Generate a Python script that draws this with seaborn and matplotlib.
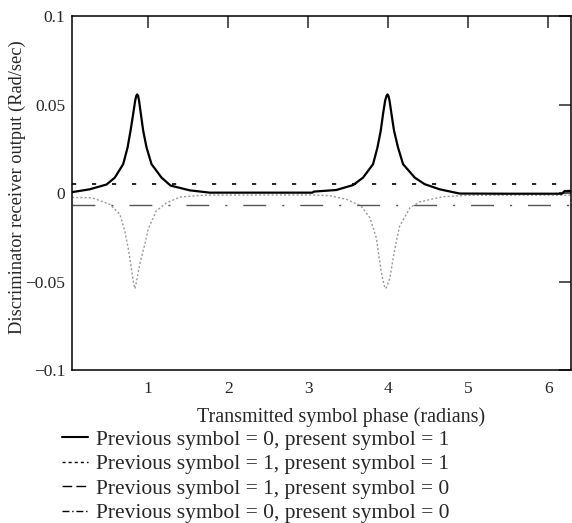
import numpy as np
import seaborn as sns
import matplotlib.pyplot as plt
from matplotlib.lines import Line2D

# values
x_01 = [0.05, 0.27, 0.48, 0.584, 0.688, 0.743, 0.78, 0.813, 0.838, 0.852, 0.863, 0.875,
        0.886, 0.909, 0.938, 0.98, 1.042, 1.167, 1.28, 1.52, 1.77, 2.5, 3.05, 3.07, 3.35,
        3.56, 3.684, 3.809, 3.864, 3.905, 3.934, 3.96, 3.978, 3.989, 4.001, 4.015, 4.039,
        4.071, 4.121, 4.184, 4.33, 4.454, 4.64, 4.89, 5.5, 6.17, 6.2, 6.28]
y_01 = [0.0005, 0.0021, 0.0048, 0.0087, 0.0163, 0.0257, 0.0352, 0.0447, 0.0522, 0.0549,
        0.0557, 0.0549, 0.0522, 0.0447, 0.0352, 0.0257, 0.0163, 0.0087, 0.0042, 0.0015,
        0.0002, 0.0002, 0.0002, 0.0008, 0.0017, 0.0045, 0.0087, 0.0163, 0.0257, 0.0352,
        0.0447, 0.0522, 0.0549, 0.0557, 0.0549, 0.0522, 0.0447, 0.0352, 0.0257, 0.0163,
        0.0087, 0.005, 0.0021, -0.0003, -0.0004, -0.0004, 0.0011, 0.0012]

x_11 = [0.05, 6.28]
y_11 = [0.005, 0.005]

x_10 = [0.05, 0.3, 0.52, 0.647, 0.709, 0.75, 0.79, 0.82, 0.835, 0.85, 0.896, 0.958, 1.0,
        1.10, 1.23, 1.40, 1.7, 3.05, 3.27, 3.48, 3.66, 3.77, 3.85, 3.91, 3.95, 3.965, 3.98,
        4.02, 4.06, 4.1, 4.14, 4.27, 4.39, 4.68, 5.0, 6.28]
y_10 = [-0.0025, -0.0027, -0.0064, -0.012, -0.0216, -0.031, -0.0424, -0.0515, -0.054,
        -0.051, -0.040, -0.029, -0.0205, -0.0102, -0.0055, -0.0023, -0.0012, -0.0011,
        -0.0015, -0.0036, -0.0074, -0.014, -0.0254, -0.0443, -0.0525, -0.054, -0.053,
        -0.048, -0.0368, -0.0273, -0.0188, -0.0083, -0.005, -0.0021, -0.0013, -0.0012]

x_00 = [0.05, 6.28]
y_00 = [-0.0066, -0.0066]

xticks = [1, 2, 3, 4, 5, 6]
yticks = [-0.1, -0.05, 0, 0.05, 0.1]
ytick_labels = ["\u22120.1", "\u22120.05", "0", "0.05", "0.1"]

labels = ["Previous symbol = 0, present symbol = 1",
          "Previous symbol = 1, present symbol = 1",
          "Previous symbol = 1, present symbol = 0",
          "Previous symbol = 0, present symbol = 0"]

sns.set_style("white")
plt.rcParams["font.family"] = ["Liberation Serif", "DejaVu Serif"]

fig = plt.figure(figsize=(5.72, 5.23), dpi=100)
ax = fig.add_axes([0.1259, 0.2925, 0.8726, 0.6769])

sns.lineplot(x=x_10, y=y_10, ax=ax, color="#9a9a9a", linewidth=1.0,
             dashes=(1.5, 1.5), errorbar=None)
sns.lineplot(x=x_00, y=y_00, ax=ax, color="#555555", linewidth=1.0,
             dashes=(16.5, 11.5, 1.5, 11.5), errorbar=None)
sns.lineplot(x=x_11, y=y_11, ax=ax, color="black", linewidth=1.2,
             dashes=(2.5, 9.5), errorbar=None)
sns.lineplot(x=x_01, y=y_01, ax=ax, color="black", linewidth=1.6, errorbar=None)

ax.set_xlim(0.049, 2 * np.pi)
ax.set_ylim(-0.1, 0.1)
ax.set_xticks(xticks)
ax.set_xticklabels([str(t) for t in xticks])
ax.set_yticks(yticks)
ax.set_yticklabels(ytick_labels)
ax.tick_params(axis="x", direction="in", length=8.6, width=1.1, top=True,
               labelsize=12.5, pad=8)
ax.tick_params(axis="y", direction="in", length=8.6, width=1.1, right=True,
               labelsize=12.5, pad=5)
for s in ax.spines.values():
    s.set_linewidth(1.1)
    s.set_color("black")

ax.set_xlabel("Transmitted symbol phase (radians)", fontsize=14.5)
ax.xaxis.set_label_coords(0.539, -0.105)
ax.set_ylabel("Discriminator receiver output (Rad/sec)", fontsize=13.2)
ax.yaxis.set_label_coords(-0.092, 0.517)

handles = [
    Line2D([], [], color="black", linewidth=1.5),
    Line2D([], [], color="black", linewidth=1.0, dashes=(2.2, 2.2)),
    Line2D([], [], color="black", linewidth=1.0, dashes=(7, 3)),
    Line2D([], [], color="black", linewidth=1.0, dashes=(5, 2, 1, 2)),
]
fig.legend(handles, labels, loc="upper left", bbox_to_anchor=(0.108, 0.178),
           frameon=False, fontsize=15.5, handlelength=1.2, handletextpad=0.37,
           borderpad=0, borderaxespad=0, labelspacing=0.2)

fig.savefig("out.png", dpi=100)
